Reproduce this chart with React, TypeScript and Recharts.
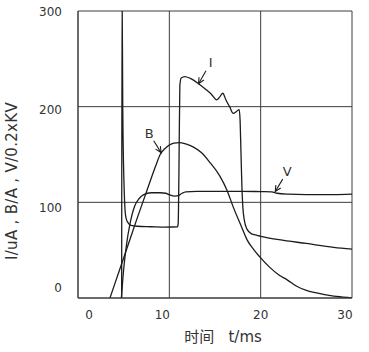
import React from 'react';
import { LineChart, Line, XAxis, YAxis, CartesianGrid, ReferenceDot, Label } from 'recharts';

// ---- data ----
const xTicks = [0, 10, 20, 30];
const yTicks = [0, 100, 200, 300];

// I (current)
const iTime = [4.78, 4.82, 4.9, 5.05, 5.15, 5.25, 5.45, 5.8, 6.5, 8, 9.5, 10.9, 10.97, 11.05, 11.15, 11.3, 11.7, 12.3, 13.2, 14.0, 14.6, 15.2, 15.5, 15.85, 16.2, 16.6, 17.0, 17.35, 17.65, 17.75, 17.85, 17.95, 18.05, 18.2, 18.5, 19.0, 19.6, 20, 22, 25, 28, 30];
const iVals = [0, 330, 200, 115, 92, 84, 79, 76, 75, 74.5, 74, 74.5, 78, 130, 222, 230, 231.5, 229.5, 224, 218, 213, 207, 210, 214, 207, 200, 193, 195, 197, 185, 150, 115, 95, 82, 72, 67, 65.5, 64.5, 61, 57, 53, 51];

// B
const bTime = [3.5, 4.5, 5.5, 6.5, 7.5, 8.5, 9.0, 9.5, 10.0, 10.5, 11.1, 11.8, 12.6, 13.5, 14.5, 15.5, 16.3, 17.0, 17.9, 18.5, 19.2, 19.9, 21, 22, 22.9, 24, 25, 26, 27, 28, 29, 30];
const bVals = [0, 28, 56, 84, 111, 138, 150, 156, 160, 162, 162.5, 161, 158, 152, 141, 128, 113, 95, 74.5, 61, 51, 43, 32, 24, 19, 12, 8, 5.5, 3.5, 2, 1, 0];

// V
const vTime = [4.75, 5.0, 5.3, 5.7, 6.2, 6.7, 7.2, 8.0, 9.0, 9.6, 10.0, 10.6, 11.0, 11.4, 11.8, 13, 15, 18, 20, 21.2, 21.8, 23, 25, 28, 30];
const vVals = [0, 30, 55, 78, 96, 104, 108, 110, 110, 109.5, 108, 106.5, 107, 109.5, 111, 111.5, 111.5, 111.5, 111.2, 111, 109.5, 108.5, 108, 108, 108.5];

// annotations: label, tip time, tip value
const annLabels = ['I', 'B', 'V'];
const annTime = [13.2, 9.1, 21.6];
const annVals = [224, 152, 111.3];

const zip = (t: number[], v: number[]) => t.map((x, i) => ({ t: x, v: v[i] }));
const iData = zip(iTime, iVals);
const bData = zip(bTime, bVals);
const vData = zip(vTime, vVals);

// ---- style ----
const FONT = '"DejaVu Sans", "Noto Sans CJK SC", sans-serif';
const TXT = '#333';
const LINE = '#1c1c1c';
const GRID = '#3c3c3c';

const xTickDx: Record<number, number> = { 0: 11, 10: -7, 20: 0, 30: -7 };
const yTickDy: Record<number, number> = { 0: -10, 100: 5, 200: 3, 300: 1 };
const annOffset: Record<string, [number, number]> = { I: [12, -21], B: [-12, -19], V: [12, -20] };

const XTick = (p: any) => {
  const v = p.payload.value;
  return (
    <text x={p.x + (xTickDx[v] ?? 0)} y={p.y} dy="0.71em" textAnchor="middle" fontFamily={FONT} fontSize={12} fill={TXT}>
      {v}
    </text>
  );
};
const YTick = (p: any) => {
  const v = p.payload.value;
  return (
    <text x={p.x} y={p.y + (yTickDy[v] ?? 0)} dy="0.355em" textAnchor="end" fontFamily={FONT} fontSize={12} fill={TXT}>
      {v}
    </text>
  );
};

const XLabel = (p: any) => {
  const vb = p.viewBox;
  return (
    <text x={vb.x + vb.width / 2 + 8} y={vb.y + 44} textAnchor="middle" fontFamily={FONT} fontSize={15} fill={TXT}>
      {'时间\u00A0\u00A0\u00A0t/ms'}
    </text>
  );
};
const YLabel = (p: any) => {
  const vb = p.viewBox;
  const cx = 12;
  const cy = vb.y + vb.height / 2 + 26.5;
  return (
    <text x={cx} y={cy} transform={`rotate(-90 ${cx} ${cy})`} textAnchor="middle" dominantBaseline="central" fontFamily={FONT} fontSize={15} letterSpacing={0.3} fill={TXT}>
      {'I/uA , B/A , V/0.2xKV'}
    </text>
  );
};

const makeArrow = (label: string) => (p: any) => {
  const { cx, cy } = p;
  const [dx, dy] = annOffset[label];
  const len = Math.hypot(dx, dy);
  const ux = dx / len;
  const uy = dy / len;
  const shaft = len * 0.62;
  const ex = cx + ux * shaft;
  const ey = cy + uy * shaft;
  const head = 6.5;
  const ang = 0.45;
  const rot = (a: number) => [ux * Math.cos(a) - uy * Math.sin(a), ux * Math.sin(a) + uy * Math.cos(a)];
  const [l1x, l1y] = rot(ang);
  const [l2x, l2y] = rot(-ang);
  return (
    <g>
      <line x1={cx} y1={cy} x2={ex} y2={ey} stroke={LINE} strokeWidth={1.1} />
      <polyline
        points={`${cx + l1x * head},${cy + l1y * head} ${cx},${cy} ${cx + l2x * head},${cy + l2y * head}`}
        fill="none"
        stroke={LINE}
        strokeWidth={1.1}
      />
      <text x={cx + dx} y={cy + dy} textAnchor="middle" dominantBaseline="central" fontFamily={FONT} fontSize={13} fill={TXT}>
        {label}
      </text>
    </g>
  );
};

export default function App() {
  return (
    <div style={{ position: 'absolute', left: 0, top: 0, background: '#fff' }}>
      <LineChart width={369} height={352} margin={{ top: 11, right: 17, bottom: 0, left: 0 }}>
        <CartesianGrid stroke={GRID} strokeWidth={1} horizontalPoints={undefined} />
        <XAxis
          type="number"
          dataKey="t"
          domain={[0, 30]}
          ticks={xTicks}
          allowDataOverflow
          height={54}
          tickSize={0}
          tickMargin={12}
          axisLine={{ stroke: GRID }}
          tickLine={false}
          tick={<XTick />}
        >
          <Label content={<XLabel />} />
        </XAxis>
        <YAxis
          type="number"
          dataKey="v"
          domain={[0, 300]}
          ticks={yTicks}
          allowDataOverflow
          width={78}
          tickSize={0}
          tickMargin={16}
          axisLine={{ stroke: GRID }}
          tickLine={false}
          tick={<YTick />}
        >
          <Label content={<YLabel />} />
        </YAxis>
        <Line data={iData} dataKey="v" type="monotone" stroke={LINE} strokeWidth={1.3} dot={false} isAnimationActive={false} />
        <Line data={bData} dataKey="v" type="monotone" stroke={LINE} strokeWidth={1.3} dot={false} isAnimationActive={false} />
        <Line data={vData} dataKey="v" type="monotone" stroke={LINE} strokeWidth={1.3} dot={false} isAnimationActive={false} />
        {annLabels.map((l, i) => (
          <ReferenceDot key={l} x={annTime[i]} y={annVals[i]} r={0} shape={makeArrow(l)} ifOverflow="visible" />
        ))}
      </LineChart>
    </div>
  );
}
